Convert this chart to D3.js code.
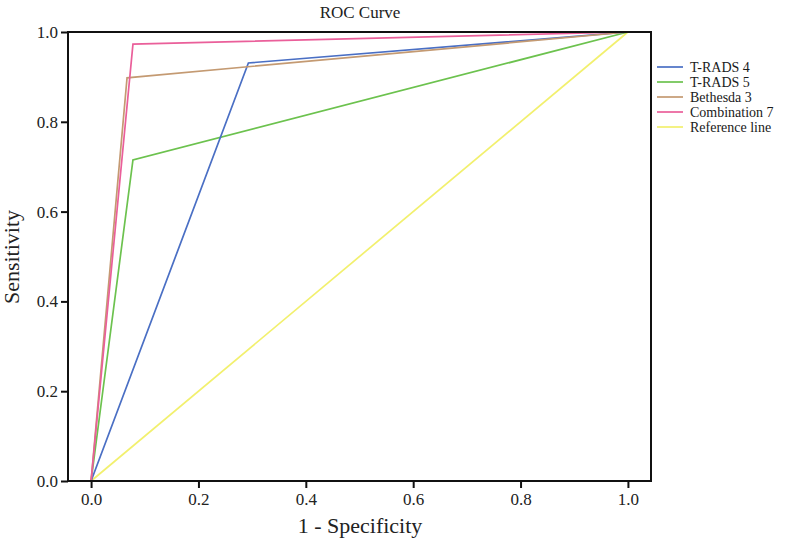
<!DOCTYPE html>
<html><head><meta charset="utf-8">
<script src="https://cdn.jsdelivr.net/npm/d3@7"></script>
<style>body{margin:0;background:#fff} svg text{font-family:"Liberation Serif","Tinos","Times New Roman","DejaVu Serif",serif;}</style>
</head><body>
<svg id="c" width="800" height="545"></svg>
<script>
const seriesNames = ["T-RADS 4","T-RADS 5","Bethesda 3","Combination 7","Reference line"];
const seriesColors = ["#4a6fc4","#6cc24e","#c49a72","#ea5f9a","#f2f06e"];
const fprValues = [
  [0, 0.293, 1],
  [0, 0.078, 1],
  [0, 0.067, 1],
  [0, 0.078, 1],
  [0, 1]
];
const tprValues = [
  [0, 0.931, 1],
  [0, 0.715, 1],
  [0, 0.898, 1],
  [0, 0.973, 1],
  [0, 1]
];
const tickValues = [0, 0.2, 0.4, 0.6, 0.8, 1.0];

const svg = d3.select("#c");
const x = d3.scaleLinear().domain([-0.043, 1.043]).range([68, 651]);
const y = d3.scaleLinear().domain([0, 1]).range([481, 32]);

const line = d3.line().x(d => x(d[0])).y(d => y(d[1]));
const order = [4, 1, 0, 2, 3];
order.forEach(i => {
  const pts = fprValues[i].map((v, k) => [v, tprValues[i][k]]);
  svg.append("path").attr("d", line(pts)).attr("fill", "none")
    .attr("stroke", seriesColors[i]).attr("stroke-width", 1.7);
});

svg.append("rect").attr("x", 68).attr("y", 32).attr("width", 651 - 68).attr("height", 481 - 32)
  .attr("fill", "none").attr("stroke", "#111").attr("stroke-width", 2);

const xAxis = svg.append("g").attr("transform", "translate(0,481)")
  .call(d3.axisBottom(x).tickValues(tickValues).tickFormat(d3.format(".1f")).tickSize(7).tickPadding(5));
const yAxis = svg.append("g").attr("transform", "translate(68,0)")
  .call(d3.axisLeft(y).tickValues(tickValues).tickFormat(d3.format(".1f")).tickSize(7).tickPadding(3));
[xAxis, yAxis].forEach(g => {
  g.attr("font-family", null);
  g.select(".domain").remove();
  g.selectAll("line").attr("stroke", "#111").attr("stroke-width", 2);
  g.selectAll("text").attr("font-size", 17).attr("fill", "#222");
});

svg.append("text").attr("x", 360).attr("y", 18).attr("text-anchor", "middle")
  .attr("font-size", 17).attr("fill", "#222").text("ROC Curve");
svg.append("text").attr("x", 360).attr("y", 533).attr("text-anchor", "middle")
  .attr("font-size", 22).attr("fill", "#222").text("1 - Specificity");
svg.append("text").attr("transform", "translate(19,257) rotate(-90)").attr("text-anchor", "middle")
  .attr("font-size", 22).attr("fill", "#222").text("Sensitivity");

const leg = svg.append("g");
seriesNames.forEach((n, i) => {
  const yy = 67 + i * 15;
  leg.append("line").attr("x1", 657).attr("x2", 683).attr("y1", yy).attr("y2", yy)
    .attr("stroke", seriesColors[i]).attr("stroke-width", 1.7);
  leg.append("text").attr("x", 690).attr("y", yy + 4.5)
    .attr("font-size", 14).attr("fill", "#1a1a1a").text(n);
});
</script>
</body></html>
